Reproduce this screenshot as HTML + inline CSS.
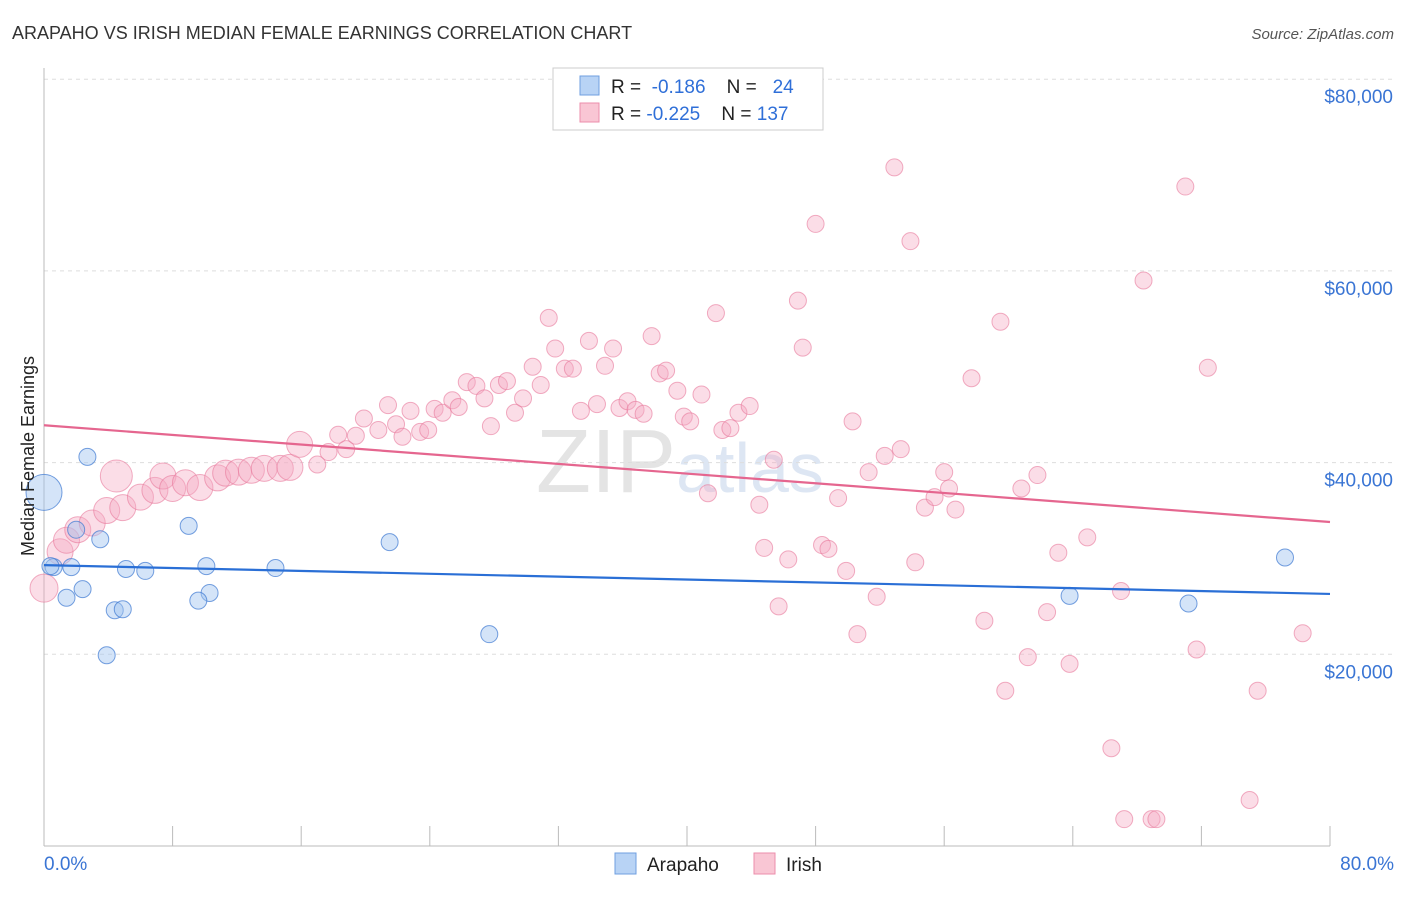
<!DOCTYPE html>
<html><head><meta charset="utf-8">
<style>
body{margin:0;background:#fff;font-family:"Liberation Sans",sans-serif;}
svg text{font-family:"Liberation Sans",sans-serif;}
</style></head>
<body>
<svg id="c" width="1406" height="892" xmlns="http://www.w3.org/2000/svg">
<text x="12" y="39" font-size="18" fill="#333">ARAPAHO VS IRISH MEDIAN FEMALE EARNINGS CORRELATION CHART</text>
<text x="1394" y="39" font-size="15" fill="#555" text-anchor="end" font-style="italic">Source: ZipAtlas.com</text>
<text x="680" y="492" font-size="90" fill="#e4e4e4" text-anchor="middle" font-family="Liberation Serif">ZIP<tspan fill="#dde6f3" font-family="Liberation Sans" font-size="70">atlas</tspan></text>
<g id="grid"></g>
<g id="axes"></g>
<g id="marks"></g>
<text transform="translate(34,456) rotate(-90)" font-size="18" fill="#222" text-anchor="middle">Median Female Earnings</text>
<g>
<rect x="553" y="68" width="270" height="62" fill="#fff" stroke="#ccc"/>
<rect x="580" y="76" width="19" height="19" fill="#b8d3f5" stroke="#6f9fe0"/>
<rect x="580" y="103" width="19" height="19" fill="#f9c6d4" stroke="#ec8eab"/>
<text x="611" y="93" font-size="19" fill="#222">R = <tspan fill="#2f6fd8">&#160;-0.186</tspan>&#160;&#160;&#160;&#160;N = <tspan fill="#2f6fd8">&#160;&#160;24</tspan></text>
<text x="611" y="120" font-size="19" fill="#222">R = <tspan fill="#2f6fd8">-0.225</tspan>&#160;&#160;&#160;&#160;N = <tspan fill="#2f6fd8">137</tspan></text>
</g>
<g>
<rect x="615" y="853" width="21" height="21" fill="#b8d3f5" stroke="#6f9fe0"/>
<text x="647" y="871" font-size="19" fill="#222">Arapaho</text>
<rect x="754" y="853" width="21" height="21" fill="#f9c6d4" stroke="#ec8eab"/>
<text x="786" y="871" font-size="19" fill="#222">Irish</text>
</g>
</svg>
<script>
const yTicks=[20000,40000,60000,80000];
const yTickLabels=["$20,000","$40,000","$60,000","$80,000"];
const xTickLabels=["0.0%","80.0%"];
const arapahoX=[0,2.7,0.6,1.7,2.0,2.4,1.4,3.5,5.1,6.3,4.4,4.9,3.9,9.0,10.1,10.3,9.6,14.4,21.5,27.7,63.8,71.2,77.2,0.4];
const arapahoY=[36900,40600,29100,29100,33000,26800,25900,32000,28900,28700,24600,24700,19900,33400,29200,26400,25600,29000,31700,22100,26100,25300,30100,29200];
const irishX=[0,1.0,1.4,2.1,3.0,3.9,4.9,4.5,6.0,6.9,7.4,8.0,8.8,9.7,10.8,11.3,12.1,12.9,13.7,14.7,15.3,15.9,17.0,17.7,18.3,18.8,19.4,19.9,20.8,21.4,21.9,22.3,22.8,23.4,23.9,24.3,24.8,25.4,25.8,26.3,26.9,27.4,27.8,28.3,28.8,29.3,29.8,30.4,30.9,31.4,31.8,32.4,32.9,33.4,33.9,34.4,34.9,35.4,35.8,36.3,36.8,37.3,37.8,38.3,38.7,39.4,39.8,40.2,40.9,41.3,41.8,42.2,42.7,43.2,43.9,44.5,44.8,45.4,45.7,46.3,46.9,47.2,48.0,48.4,48.8,49.4,49.9,50.3,50.6,51.3,51.8,52.3,52.9,53.3,53.9,54.2,54.8,55.4,56.0,56.3,56.7,57.7,58.5,59.5,59.8,60.8,61.2,61.8,62.4,63.1,63.8,64.9,66.4,67.0,67.2,68.4,68.9,69.2,71.0,71.7,72.4,75.0,75.5,78.3];
const irishY=[26900,30700,31900,33000,33700,35000,35300,38600,36400,37100,38600,37300,37900,37400,38400,38900,39000,39200,39400,39400,39500,41900,39800,41100,42900,41400,42800,44600,43400,46000,44000,42700,45400,43200,43400,45600,45200,46500,45800,48400,48000,46700,43800,48100,48500,45200,46700,50000,48100,55100,51900,49800,49800,45400,52700,46100,50100,51900,45700,46400,45500,45100,53200,49300,49600,47500,44800,44300,47100,36800,55600,43400,43600,45200,45900,35600,31100,40300,25000,29900,56900,52000,64900,31400,31000,36300,28700,44300,22100,39000,26000,40700,70800,41400,63100,29600,35300,36400,39000,37300,35100,48800,23500,54700,16200,37300,19700,38700,24400,30600,19000,32200,10200,26600,2800,59000,2800,2800,68800,20500,49900,4800,16200,22200];
const trendX=[0,80];
const arapahoTrend=[29300,26300];
const irishTrend=[43900,33800];
const NS="http://www.w3.org/2000/svg";
const X=v=>44+v/80*1286;
const Y=v=>846-v/20000*191.7;
function mk(tag,attrs,parent){const e=document.createElementNS(NS,tag);for(const k in attrs)e.setAttribute(k,attrs[k]);document.getElementById(parent).appendChild(e);return e;}
yTicks.forEach((t,i)=>{
 let l=mk('line',{x1:44,x2:1394,y1:Y(t),y2:Y(t),stroke:'#ddd','stroke-dasharray':'4,4'},'grid');
 
 
 let tx=mk('text',{x:1393,y:Y(t)+24,'text-anchor':'end','font-size':19,fill:'#3a75d4'},'axes');
 tx.textContent=yTickLabels[i];
 
 
});
let ax=mk('line',{x1:44,x2:44,y1:68,y2:846,stroke:'#bbb'},'axes');


let bx=mk('line',{x1:44,x2:1330,y1:846,y2:846,stroke:'#bbb'},'axes');


for(let i=0;i<=10;i++){
 let t=mk('line',{x1:X(i*8),x2:X(i*8),y1:826,y2:846,stroke:'#bbb'},'axes');
 
 
}
[[0,'start',44],[80,'end',1394]].forEach((d,i)=>{
 let tx=mk('text',{x:d[2],y:870,'text-anchor':d[1],'font-size':19,fill:'#3a75d4'},'axes');
 tx.textContent=xTickLabels[i];
 
 
});
irishX.forEach((x,i)=>{
 const r=x<1?14:(x<16?(i===7?16:13):8.5);
 let c=mk('circle',{cx:X(x),cy:Y(irishY[i]),r:r,fill:'rgba(246,170,194,0.4)',stroke:'rgba(232,120,155,0.6)'},'marks');
 
 
});
arapahoX.forEach((x,i)=>{
 const r=i===0?18:8.5;
 let c=mk('circle',{cx:X(x),cy:Y(arapahoY[i]),r:r,fill:'rgba(160,196,240,0.45)',stroke:'rgba(60,120,210,0.7)'},'marks');
 
 
});
let pl=mk('line',{x1:X(trendX[0]),x2:X(trendX[1]),y1:Y(irishTrend[0]),y2:Y(irishTrend[1]),stroke:'#e5668f','stroke-width':2.2},'marks');


let bl=mk('line',{x1:X(trendX[0]),x2:X(trendX[1]),y1:Y(arapahoTrend[0]),y2:Y(arapahoTrend[1]),stroke:'#2a6fd6','stroke-width':2.2},'marks');


</script>
</body></html>
